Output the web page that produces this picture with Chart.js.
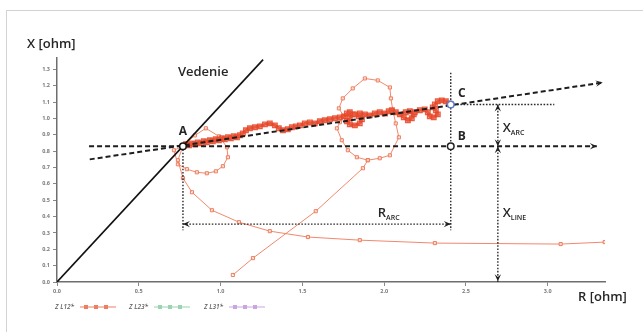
<!DOCTYPE html>
<html><head><meta charset="utf-8">
<script src="https://cdn.jsdelivr.net/npm/chart.js@4.4.0/dist/chart.umd.min.js"></script>
<style>
html,body{margin:0;padding:0;background:#fff;width:643px;height:332px;overflow:hidden}
#frame{position:absolute;left:6px;top:10px;width:700px;height:400px;border-top:1px solid #d2d2d2;border-left:1.5px solid #d2d2d2}
#wrap{position:absolute;left:0;top:0;width:643px;height:332px}
</style></head><body>
<div id="frame"></div>
<div id="wrap"><canvas id="c" width="643" height="332"></canvas></div>
<script>
// ---- tick labels ----
const xTicks = [0, 0.5, 1.0, 1.5, 2.0, 2.5, 3.0];
const yTicks = [0, 0.1, 0.2, 0.3, 0.4, 0.5, 0.6, 0.7, 0.8, 0.9, 1.0, 1.1, 1.2, 1.3];

// ---- legend series ----
const seriesNames = ['Z L12*', 'Z L23*', 'Z L31*'];

// ---- Z L12* trajectory (R [ohm], X [ohm]) in segments ----
const zl12TailR = [3.348, 3.079, 2.310, 1.851, 1.534, 1.301, 1.112, 0.947, 0.825, 0.770, 0.739, 0.770];
const zl12TailX = [0.244, 0.232, 0.238, 0.256, 0.275, 0.311, 0.366, 0.439, 0.549, 0.635, 0.745, 0.830];

const zl12LoopAR = [0.770, 0.715, 0.739, 0.794, 0.855, 0.916, 0.971, 1.014, 1.045, 1.039, 0.990, 0.910, 0.843, 0.788, 0.770];
const zl12LoopAX = [0.830, 0.806, 0.720, 0.690, 0.671, 0.665, 0.677, 0.708, 0.763, 0.824, 0.891, 0.940, 0.897, 0.848, 0.830];

const zl12BandR = [0.770, 0.788, 0.807, 0.825, 0.843, 0.861, 0.880, 0.898, 0.916, 0.935, 0.953, 0.971, 0.990, 1.008, 1.026, 1.045, 1.063, 1.081, 1.100, 1.118,
  1.136, 1.155, 1.179, 1.210, 1.240, 1.271, 1.301, 1.332, 1.356, 1.381, 1.411, 1.436, 1.460, 1.485, 1.515, 1.546, 1.576, 1.607, 1.637, 1.668,
  1.699, 1.729, 1.754, 1.772, 1.790, 1.808, 1.790, 1.772, 1.790, 1.821, 1.851, 1.864, 1.845, 1.821, 1.851, 1.882, 1.912, 1.943, 1.973, 2.004,
  2.028, 2.047, 2.071, 2.096, 2.120, 2.145, 2.169, 2.181, 2.157, 2.132, 2.187, 2.218, 2.248, 2.267, 2.279, 2.303, 2.328, 2.316, 2.297, 2.310,
  2.328, 2.352, 2.377, 2.395, 2.407];
const zl12BandX = [0.830, 0.842, 0.836, 0.848, 0.842, 0.854, 0.848, 0.861, 0.854, 0.867, 0.861, 0.873, 0.867, 0.879, 0.873, 0.885, 0.879, 0.891, 0.885, 0.897,
  0.909, 0.928, 0.940, 0.946, 0.952, 0.964, 0.970, 0.958, 0.940, 0.928, 0.934, 0.946, 0.952, 0.958, 0.970, 0.976, 0.970, 0.983, 0.989, 0.995,
  1.001, 1.007, 1.013, 1.031, 1.038, 1.025, 1.001, 0.983, 0.964, 0.958, 0.970, 0.995, 1.013, 1.025, 1.031, 1.025, 1.019, 1.031, 1.038, 1.031,
  1.044, 1.050, 1.038, 1.025, 1.007, 0.989, 1.001, 1.025, 1.044, 1.038, 1.038, 1.050, 1.056, 1.038, 1.013, 1.007, 1.025, 1.050, 1.068, 1.086,
  1.105, 1.111, 1.105, 1.092, 1.086];

const zl12BigLoopR = [1.754, 1.729, 1.711, 1.741, 1.778, 1.833, 1.900, 1.973, 2.035, 2.090, 2.071, 2.053, 2.041, 2.035, 1.961, 1.882, 1.808, 1.747, 1.723, 1.754];
const zl12BigLoopX = [1.013, 0.977, 0.940, 0.867, 0.806, 0.763, 0.745, 0.757, 0.775, 0.885, 0.970, 1.050, 1.123, 1.190, 1.233, 1.245, 1.184, 1.123, 1.062, 1.013];

const zl12RiseR = [1.075, 1.198, 1.582, 1.870, 1.900];
const zl12RiseX = [0.043, 0.146, 0.433, 0.696, 0.745];

const zl23R = [];
const zl23X = [];
const zl31R = [];
const zl31X = [];

// ---- construction lines (data units) ----
const lineVedenieR = [0, 1.26];
const lineVedenieX = [0, 1.36];
const lineSlopeR = [0.20, 3.336];
const lineSlopeX = [0.75, 1.22];
const lineHorizR = [0.196, 3.30];
const lineHorizX = [0.83, 0.83];
const dotVertAR = [0.77, 0.77];
const dotVertAX = [0.83, 0.317];
const dotVertBR = [2.407, 2.407];
const dotVertBX = [1.28, 0.317];
const dotRarcR = [0.77, 2.407];
const dotRarcX = [0.354, 0.354];
const dotCR = [2.407, 3.04];
const dotCX = [1.086, 1.086];
const dotXarcR = [2.695, 2.695];
const dotXarcX = [1.086, 0.0];

const pointNames = ['A', 'B', 'C'];
const pointR = [0.770, 2.407, 2.407];
const pointX = [0.830, 0.830, 1.086];

const zip = (r, x) => r.map((v, i) => ({x: v, y: x[i]}));

const orange = '#ee7f5e';
const trajStyle = {
  showLine: true, borderColor: 'rgba(240,130,100,0.95)', borderWidth: 1,
  pointStyle: 'rect', pointRadius: 2.2, pointBorderWidth: 1,
  pointBorderColor: 'rgba(236,120,88,0.95)', pointBackgroundColor: 'rgba(255,235,225,0.6)', order: 10
};
const bandStyle = {
  showLine: true, borderColor: 'rgba(225,55,30,0.9)', borderWidth: 3,
  pointStyle: 'rect', pointRadius: 3.2, pointBorderWidth: 1.4,
  pointBorderColor: 'rgba(230,70,40,0.85)', pointBackgroundColor: 'rgba(240,110,80,0.4)', order: 9
};
const dashStyle = {showLine: true, pointRadius: 0, borderColor: '#1e1e1e', borderWidth: 2, borderDash: [5, 3], order: 2};
const dotStyle = {showLine: true, pointRadius: 0, borderColor: '#2a2a2a', borderWidth: 1.4, borderDash: [1.6, 1.6], order: 2};

const datasets = [
  Object.assign({label: seriesNames[0], data: zip(zl12TailR, zl12TailX)}, trajStyle),
  Object.assign({label: seriesNames[0], data: zip(zl12LoopAR, zl12LoopAX)}, trajStyle),
  Object.assign({label: seriesNames[0], data: zip(zl12BigLoopR, zl12BigLoopX)}, trajStyle),
  Object.assign({label: seriesNames[0], data: zip(zl12RiseR, zl12RiseX)}, trajStyle),
  Object.assign({label: seriesNames[0], data: zip(zl12BandR, zl12BandX)}, bandStyle),
  {label: seriesNames[1], data: zip(zl23R, zl23X), showLine: true, borderColor: '#9ad4b0', pointBackgroundColor: '#9ad4b0'},
  {label: seriesNames[2], data: zip(zl31R, zl31X), showLine: true, borderColor: '#c9a6e2', pointBackgroundColor: '#c9a6e2'},
  {label: 'Vedenie', data: zip(lineVedenieR, lineVedenieX), showLine: true, pointRadius: 0, borderColor: '#111', borderWidth: 1.6, order: 3},
  Object.assign({label: 'slope', data: zip(lineSlopeR, lineSlopeX)}, dashStyle),
  Object.assign({label: 'horiz', data: zip(lineHorizR, lineHorizX)}, dashStyle),
  Object.assign({label: 'vA', data: zip(dotVertAR, dotVertAX)}, dotStyle),
  Object.assign({label: 'vB', data: zip(dotVertBR, dotVertBX)}, dotStyle),
  Object.assign({label: 'rarc', data: zip(dotRarcR, dotRarcX)}, dotStyle),
  Object.assign({label: 'hC', data: zip(dotCR, dotCX)}, dotStyle),
  Object.assign({label: 'xarc', data: zip(dotXarcR, dotXarcX)}, dotStyle),
  {label: 'points', data: zip(pointR, pointX), showLine: false, pointRadius: 3.3, pointBorderWidth: 1.5,
   pointBackgroundColor: '#fff', pointBorderColor: ['#111', '#222', '#5b7fcf'], order: 0}
];

// arrowheads: tip and a point behind it (data units)
const arrowTipR  = [3.336, 3.30, 0.77, 2.407, 2.695, 2.695, 2.695, 2.695];
const arrowTipX  = [1.22, 0.83, 0.354, 0.354, 1.086, 0.83, 0.83, 0.005];
const arrowFromR = [3.0, 3.0, 1.0, 2.0, 2.695, 2.695, 2.695, 2.695];
const arrowFromX = [1.1697, 0.83, 0.354, 0.354, 0.9, 1.0, 0.6, 0.3];

const annot = {
  id: 'annot',
  afterDatasetsDraw(chart) {
    const ctx = chart.ctx, xs = chart.scales.x, ys = chart.scales.y;
    ctx.save();
    ctx.fillStyle = '#1e1e1e';
    for (let i = 0; i < arrowTipR.length; i++) {
      const tx = xs.getPixelForValue(arrowTipR[i]), ty = ys.getPixelForValue(arrowTipX[i]);
      const fx = xs.getPixelForValue(arrowFromR[i]), fy = ys.getPixelForValue(arrowFromX[i]);
      const a = Math.atan2(ty - fy, tx - fx);
      const L = 7, H = 3.2;
      ctx.beginPath();
      ctx.moveTo(tx, ty);
      ctx.lineTo(tx - L * Math.cos(a) + H * Math.sin(a), ty - L * Math.sin(a) - H * Math.cos(a));
      ctx.lineTo(tx - L * Math.cos(a) * 0.6, ty - L * Math.sin(a) * 0.6);
      ctx.lineTo(tx - L * Math.cos(a) - H * Math.sin(a), ty - L * Math.sin(a) + H * Math.cos(a));
      ctx.closePath();
      ctx.fill();
    }
    // texts
    ctx.fillStyle = '#262626';
    ctx.textBaseline = 'middle';
    ctx.textAlign = 'left';
    ctx.font = '600 13px "Open Sans"';
    ctx.fillText('X [ohm]', 27, 44);
    ctx.fillText('R [ohm]', 578, 297);
    ctx.fillText('Vedenie', xs.getPixelForValue(0.739), ys.getPixelForValue(1.282));
    ctx.font = '700 12px "Open Sans"';
    ctx.textAlign = 'center';
    const labPos = [[0.770, 0.922], [2.475, 0.891], [2.475, 1.153]];
    pointNames.forEach((n, i) => ctx.fillText(n, xs.getPixelForValue(labPos[i][0]), ys.getPixelForValue(labPos[i][1])));
    ctx.textAlign = 'left';
    const sub = (m, s, r, x) => {
      const px = xs.getPixelForValue(r), py = ys.getPixelForValue(x);
      ctx.font = '600 13px "Open Sans"';
      ctx.fillText(m, px, py);
      const w = ctx.measureText(m).width;
      ctx.font = '600 7px "Open Sans"';
      ctx.fillText(s, px + w, py + 5);
    };
    sub('X', 'ARC', 2.725, 0.940);
    sub('X', 'LINE', 2.725, 0.420);
    sub('R', 'ARC', 1.961, 0.421);
    // legend
    const legX = [55, 129, 204];
    chart.data.datasets.filter((d, i, arr) => seriesNames.includes(d.label) && arr.findIndex(e => e.label === d.label) === i)
      .forEach((d, k) => {
        const lx = legX[k], ly = 307;
        ctx.font = 'italic 600 6.5px "Open Sans"';
        ctx.fillStyle = '#5e5e5e';
        ctx.textAlign = 'left';
        ctx.fillText(d.label, lx, ly);
        const col = k === 0 ? orange : d.borderColor;
        ctx.strokeStyle = col; ctx.lineWidth = 1.2;
        ctx.beginPath(); ctx.moveTo(lx + 25, ly); ctx.lineTo(lx + 61, ly); ctx.stroke();
        for (let j = 0; j < 3; j++) {
          ctx.fillStyle = col;
          ctx.fillRect(lx + 31 + j * 10 - 2, ly - 2, 4, 4);
        }
      });
    ctx.restore();
  }
};

new Chart(document.getElementById('c'), {
  type: 'scatter',
  data: {datasets},
  options: {
    responsive: false, animation: false, devicePixelRatio: 1,
    layout: {padding: {left: 0, top: 58, right: 38, bottom: 0}},
    plugins: {legend: {display: false}, tooltip: {enabled: false}},
    elements: {line: {tension: 0}},
    scales: {
      x: {
        type: 'linear', position: 'bottom', min: 0, max: 3.35,
        afterBuildTicks: s => { s.ticks = xTicks.map(v => ({value: v})); },
        afterFit: s => { s.height = 50; },
        ticks: {callback: v => Number(v).toFixed(1), font: {size: 5.5, family: 'Open Sans', weight: 'bold'}, color: '#7a7a7a', padding: 2, maxRotation: 0, autoSkip: false},
        grid: {drawOnChartArea: false, drawTicks: true, tickLength: 4, tickColor: '#888'},
        border: {display: true, color: '#6e6e6e', width: 1.5}
      },
      y: {
        type: 'linear', min: 0, max: 1.37,
        afterBuildTicks: s => { s.ticks = yTicks.map(v => ({value: v})); },
        afterFit: s => { s.width = 57; },
        ticks: {callback: v => Number(v).toFixed(1), font: {size: 5.5, family: 'Open Sans', weight: 'bold'}, color: '#7a7a7a', padding: 3, autoSkip: false},
        grid: {drawOnChartArea: false, drawTicks: true, tickLength: 4, tickColor: '#888'},
        border: {display: true, color: '#6e6e6e', width: 1.5}
      }
    }
  },
  plugins: [annot]
});
</script>
</body></html>
